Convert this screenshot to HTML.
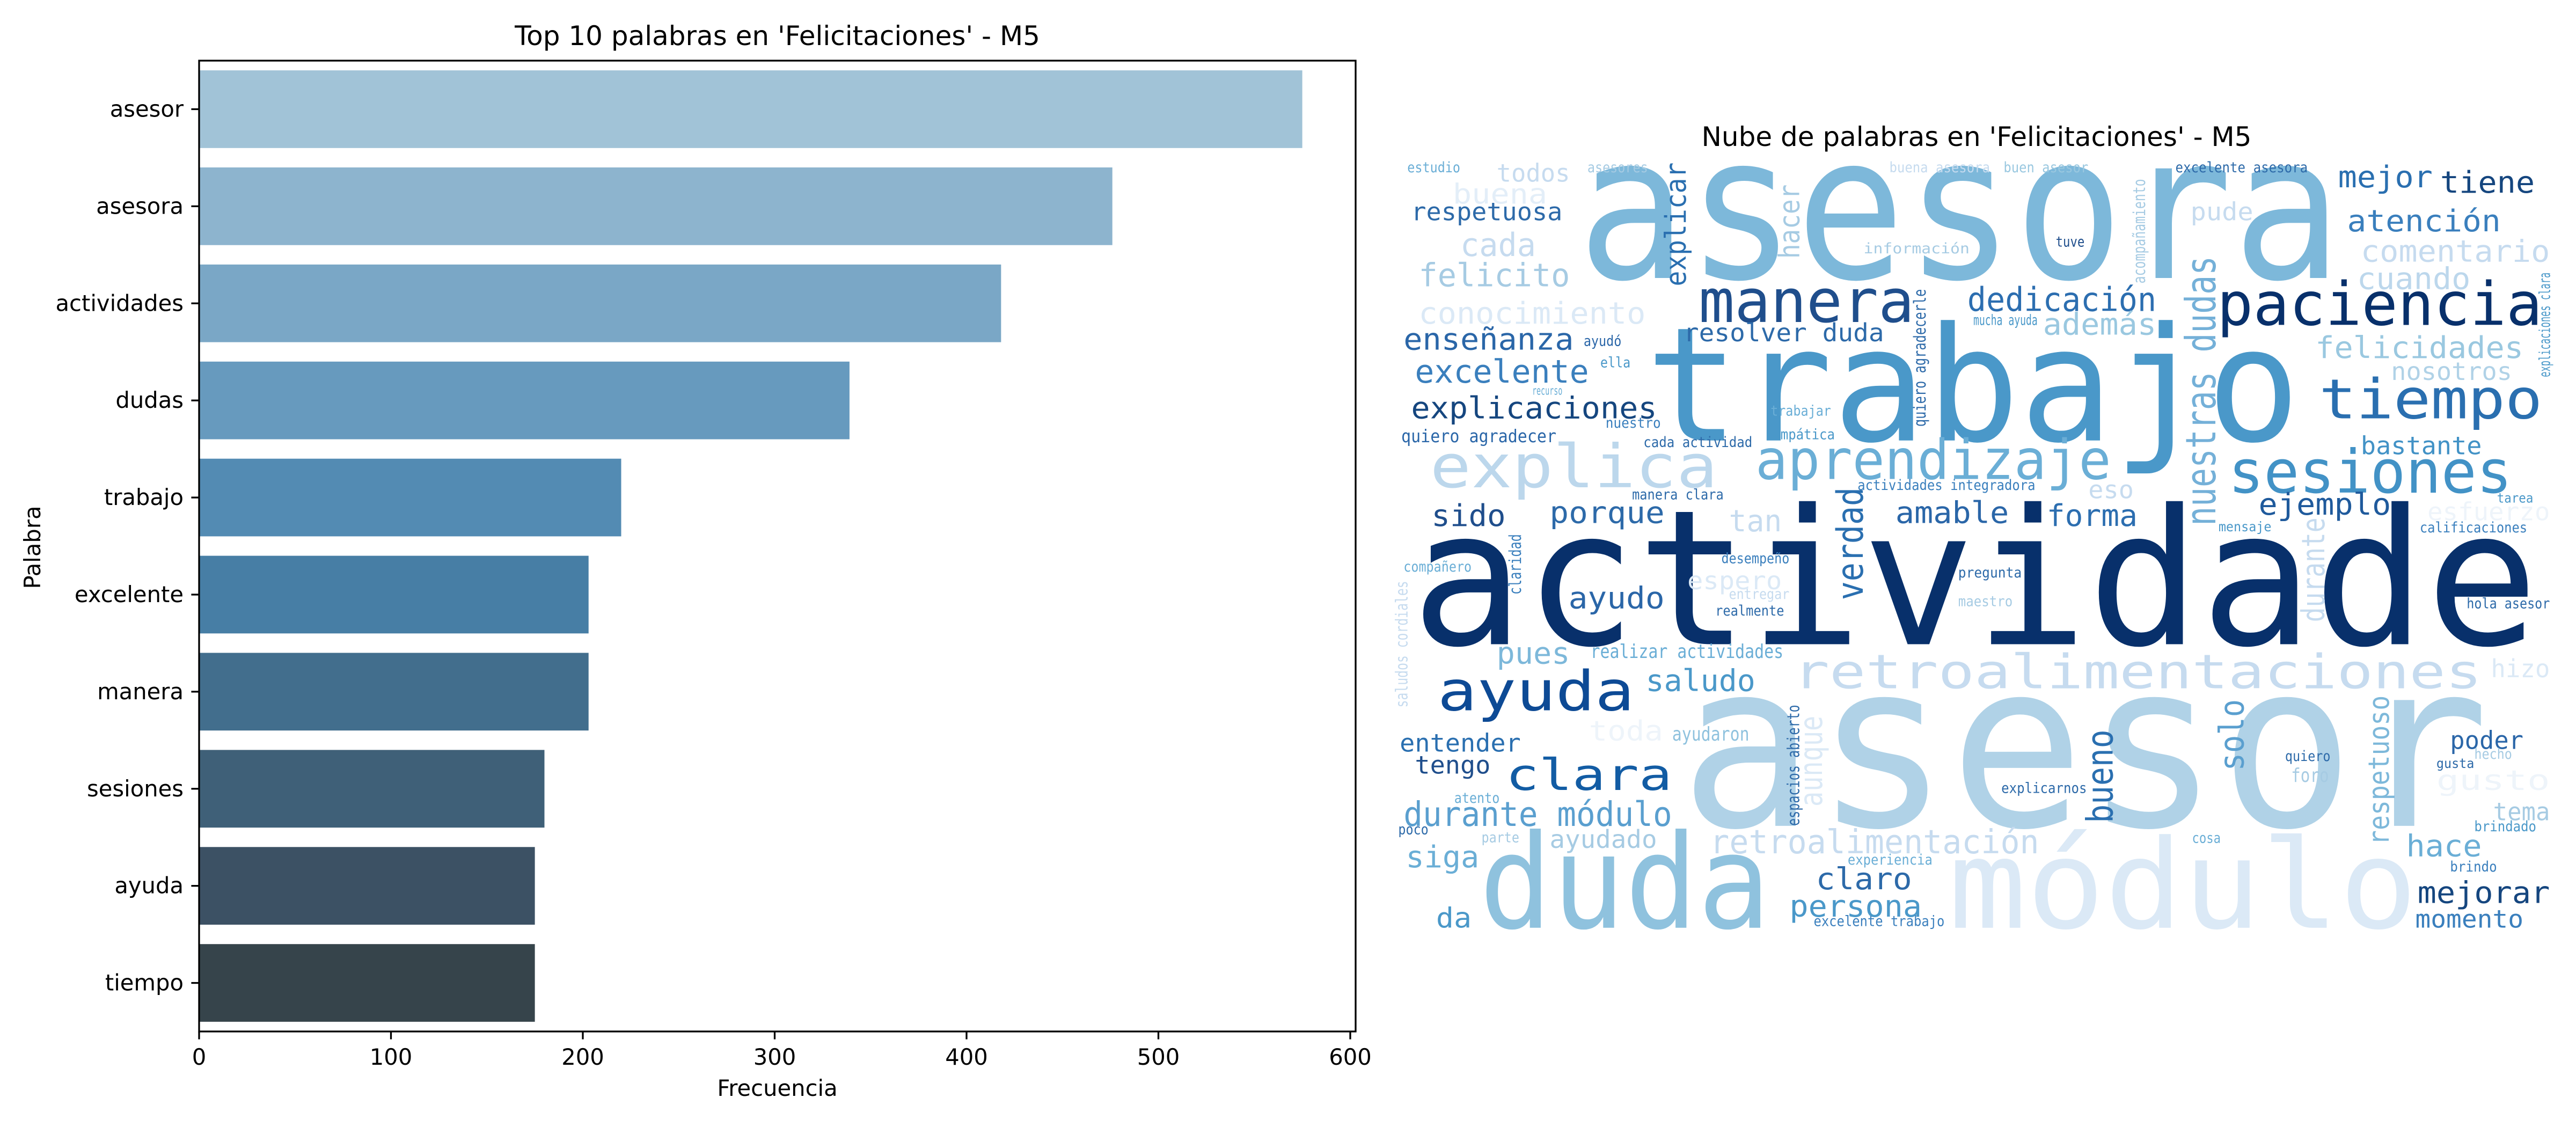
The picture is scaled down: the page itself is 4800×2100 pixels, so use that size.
<!DOCTYPE html>
<html><head><meta charset="utf-8">
<style>
html,body{margin:0;padding:0;background:#fff;}
svg{display:block;font-family:"DejaVu Sans","Liberation Sans",sans-serif;}
</style></head>
<body>
<svg id="fig" width="4800" height="2100" viewBox="0 0 4800 2100" xmlns="http://www.w3.org/2000/svg">
<rect width="4800" height="2100" fill="#fff"/>
<g id="bar-chart"></g>
<g id="cloud"></g>
</svg>
<script>
const categories = ["asesor","asesora","actividades","dudas","trabajo","excelente","manera","sesiones","ayuda","tiempo"];
const frequencies = [575,476,418,339,220,203,203,180,175,175];
const barColors = ["#a1c3d7","#8db4ce","#7aa7c6","#679abe","#538bb3","#477ea5","#426e8d","#3f6078","#3c5164","#36444b"];
const xTicks = [0,100,200,300,400,500,600];

const NS="http://www.w3.org/2000/svg";
function mk(tag, attrs, parent, text){
  const e=document.createElementNS(NS,tag);
  for(const k in attrs) e.setAttribute(k,attrs[k]);
  if(text!==undefined) e.textContent=text;
  parent.appendChild(e); return e;
}
const bc=document.getElementById('bar-chart');
const L=371,R=2526,T=113,B=1922;
const x0=371, pxPer=(2516-371)/600;
const xs=v=>x0+v*pxPer;
const band=(B-T)/categories.length;
const yc=i=>T+band*(i+0.5);

categories.forEach((c,i)=>{
  const r=mk('rect',{x:xs(0),y:yc(i)-band*0.4,width:xs(frequencies[i])-xs(0),height:band*0.8,fill:barColors[i]},bc);
  
  
  mk('line',{x1:L-14.6,x2:L,y1:yc(i),y2:yc(i),stroke:'#000','stroke-width':3.3},bc);
  const t=mk('text',{x:L-29,y:yc(i)+14,'text-anchor':'end','font-size':41.7,fill:'#000'},bc,c);
  
  
});
xTicks.forEach(v=>{
  mk('line',{x1:xs(v),x2:xs(v),y1:B,y2:B+14.6,stroke:'#000','stroke-width':3.3},bc);
  const t=mk('text',{x:xs(v),y:B+62,'text-anchor':'middle','font-size':41.7,fill:'#000'},bc,String(v));
  
  
});
const fr=mk('rect',{x:L,y:T,width:R-L,height:B-T,fill:'none',stroke:'#000','stroke-width':3.3},bc);


let tt=mk('text',{x:(L+R)/2,y:84,'text-anchor':'middle','font-size':50,fill:'#000'},bc,"Top 10 palabras en 'Felicitaciones' - M5");


tt=mk('text',{x:(L+R)/2,y:2042,'text-anchor':'middle','font-size':41.7,fill:'#000'},bc,"Frecuencia");


tt=mk('text',{x:0,y:0,'text-anchor':'middle','font-size':41.7,fill:'#000',transform:'translate(75,1020) rotate(-90)'},bc,"Palabra");



// word cloud
const cl=document.getElementById('cloud');
tt=mk('text',{x:3683,y:272,'text-anchor':'middle','font-size':50,fill:'#000'},cl,"Nube de palabras en 'Felicitaciones' - M5");


const X=z=>2580+z*1.41, Y=z=>200+z*1.026;
// [word, left, right, baseline, fontsize, color] in zoom coords
const words=[
["asesora",255,1265,310,364,"#7db8da"],
["trabajo",345,1210,605,288,"#4a98c9"],
["actividade",35,1525,975,342,"#08306b"],
["asesor",390,1460,1305,418,"#b0d2e7"],
["duda",125,510,1490,237,"#8fc2de"],
["módulo",745,1365,1490,224,"#dbe9f6"],
["paciencia",1100,1530,395,109,"#08306b"],
["manera",415,700,390,109,"#1f4e8c"],
["tiempo",1235,1530,565,100,"#2a6fb0"],
["sesiones",1115,1490,700,109,"#4292c6"],
["explica",60,440,690,109,"#bcd7ec"],
["aprendizaje",490,960,675,100,"#6aaed6"],
["retroalimentaciones",540,1450,1055,86,"#c6dbef"],
["ayuda",70,330,1095,100,"#0d4a95"],
["clara",160,380,1240,79,"#125ca4"],
["durante módulo",25,380,1305,62,"#5a9fcf"],
["retroalimentación",430,865,1355,60,"#c6dbef"],
["dedicación",770,1020,370,60,"#2c6eb0"],
["explicaciones",35,360,565,55,"#15467f"],
["excelente",40,270,500,58,"#3a7fbd"],
["enseñanza",25,250,440,55,"#2a66a8"],
["felicito",45,245,325,58,"#a6cbe3"],
["conocimiento",45,345,393,55,"#dbe9f6"],
["respetuosa",35,235,205,45,"#2d6aa9"],
["cada",100,200,270,58,"#c6dbef"],
["buena",90,215,175,50,"#e3eef8"],
["todos",148,245,135,45,"#c6dbef"],
["resolver duda",395,660,425,45,"#2d6aa9"],
["además",870,1020,413,55,"#9ac8e0"],
["mejor",1260,1385,145,55,"#2a6fb0"],
["tiene",1395,1520,155,55,"#15467f"],
["atención",1272,1475,225,55,"#3a7fbd"],
["pude",1065,1148,205,45,"#c6dbef"],
["comentario",1290,1540,280,55,"#c6dbef"],
["cuando",1285,1435,330,55,"#bcd7ec"],
["felicidades",1230,1505,455,55,"#9ac8e0"],
["nosotros",1330,1490,495,45,"#b0d2e7"],
["bastante",1290,1450,630,45,"#4292c6"],
["ejemplo",1155,1330,740,55,"#1f5a9c"],
["forma",875,995,760,55,"#2c6eb0"],
["amable",675,825,755,55,"#2a66a8"],
["eso",930,990,710,45,"#c6dbef"],
["tan",455,525,770,55,"#c6dbef"],
["sido",62,160,760,55,"#1f4e8c"],
["porque",218,370,755,55,"#2d6aa9"],
["espero",400,525,875,45,"#dbe9f6"],
["ayudo",243,370,910,55,"#2a66a8"],
["pues",148,245,1010,55,"#7db8da"],
["saludo",345,490,1060,55,"#4a98c9"],
["realizar actividades",272,527,1000,35,"#6aaed6"],
["entender",20,180,1170,45,"#2a6fb0"],
["tengo",40,140,1210,45,"#1f4e8c"],
["siga",28,125,1380,55,"#6aaed6"],
["ayudado",218,360,1345,45,"#a6cbe3"],
["da",68,115,1490,50,"#4a98c9"],
["ayudaron",380,482,1150,35,"#8fc2de"],
["claro",570,697,1420,55,"#2d6aa9"],
["persona",535,710,1470,55,"#4a98c9"],
["poder",1408,1505,1165,45,"#2a66a8"],
["hace",1350,1450,1360,55,"#6aaed6"],
["tema",1465,1540,1295,45,"#a6cbe3"],
["hizo",1462,1540,1035,45,"#dbe9f6"],
["gusto",1390,1540,1240,50,"#eef4fa"],
["esfuerzo",1378,1540,750,45,"#eef4fa"],
["mejorar",1365,1540,1445,55,"#15467f"],
["momento",1362,1505,1490,45,"#3a7fbd"],
["toda",270,368,1150,50,"#eef4fa"],
["foro",1198,1248,1225,35,"#a6cbe3"],
["estudio",30,100,118,26,"#6aaed6"],
["asesores",268,348,118,26,"#a6cbe3"],
["buena asesora",667,800,118,26,"#c6dbef"],
["buen asesor",818,930,118,26,"#9ac8e0"],
["excelente asesora",1045,1220,118,26,"#2d6aa9"],
["información",633,773,265,26,"#a6cbe3"],
["cada actividad",342,486,617,26,"#2d6aa9"],
["quiero agradecer",22,227,608,32,"#2a66a8"],
["actividades integradora",625,860,695,26,"#3a7fbd"],
["calificaciones",1368,1510,772,26,"#3a7fbd"],
["hola asesor",1430,1540,910,26,"#2d6aa9"],
["explicarnos",815,928,1245,26,"#2d6aa9"],
["excelente trabajo",567,740,1487,26,"#3a7fbd"],
["experiencia",612,724,1375,26,"#6aaed6"],
["pregunta",758,842,854,26,"#2d6aa9"],
["realmente",437,528,923,26,"#2d6aa9"],
["mucha ayuda",778,863,395,26,"#4a98c9"],
["brindado",1440,1522,1315,26,"#4a98c9"],
["brindo",1408,1470,1388,26,"#3a7fbd"],
["ella",285,325,472,26,"#4a98c9"],
["recurso",195,235,522,22,"#6aaed6"],
["nuestro",292,365,582,26,"#3a7fbd"],
["trabajar",510,590,560,26,"#6aaed6"],
["empática",513,595,603,26,"#4a98c9"],
["ayudó",263,313,433,26,"#2a66a8"],
["compañero",25,115,843,26,"#6aaed6"],
["desempeño",445,535,828,26,"#3a7fbd"],
["entregar",455,535,893,26,"#c6dbef"],
["maestro",758,830,906,26,"#a6cbe3"],
["mensaje",1102,1172,770,24,"#4a98c9"],
["tarea",1470,1518,718,24,"#4a98c9"],
["manera clara",327,448,712,26,"#2d6aa9"],
["tuve",887,925,253,26,"#1f4e8c"],
["hecho",1440,1490,1183,26,"#a6cbe3"],
["gusta",1390,1440,1200,24,"#2d6aa9"],
["quiero",1190,1250,1187,26,"#2d6aa9"],
["cosa",1067,1105,1336,26,"#6aaed6"],
["atento",92,152,1263,26,"#6aaed6"],
["poco",18,58,1320,26,"#2d6aa9"],
["parte",128,178,1335,26,"#a6cbe3"]
];
words.forEach(w=>{
  const t=mk('text',{x:X(w[1]),y:Y(w[3]),'font-size':w[4]*1.026,fill:w[5],
    textLength:(w[2]-w[1])*1.41,lengthAdjust:'spacingAndGlyphs',
    'font-family':'"DejaVu Sans Mono","Liberation Mono",monospace'},cl,w[0]);
  
  
});
// vertical words: [word, x (baseline side), ybottom, ytop, font(zoom x-units), color]
const vwords=[
["explicar",398,325,100,38,"#2a6fb0"],
["hacer",548,275,140,38,"#a6cbe3"],
["nuestras dudas",1098,760,270,55,"#74b0d8"],
["verdad",632,895,690,48,"#2a6fb0"],
["bueno",962,1300,1130,48,"#2a6fb0"],
["solo",1135,1205,1075,45,"#5a9fcf"],
["respetuoso",1327,1340,1068,38,"#7db8da"],
["aunque",578,1270,1105,42,"#dbe9f6"],
["durante",1242,935,745,42,"#c6dbef"],
["quiero agradecerle",715,580,330,22,"#2d6aa9"],
["espacios abierto",548,1305,1085,22,"#2d6aa9"],
["claridad",180,885,775,22,"#3a7fbd"],
["saludos cordiales",30,1090,860,22,"#c6dbef"],
["acompañamiento",1005,320,130,22,"#a6cbe3"],
["explicaciones clara",1540,490,300,20,"#4a98c9"]
];
vwords.forEach(w=>{
  const x=X(w[1]), yb=Y(w[2]), yt=Y(w[3]);
  const t=mk('text',{x:0,y:0,'font-size':w[4]*1.41,fill:w[5],
    textLength:yb-yt,lengthAdjust:'spacingAndGlyphs',
    transform:`translate(${x},${yb}) rotate(-90)`,
    'font-family':'"DejaVu Sans Mono","Liberation Mono",monospace'},cl,w[0]);
  
  
});
</script>
</body></html>
